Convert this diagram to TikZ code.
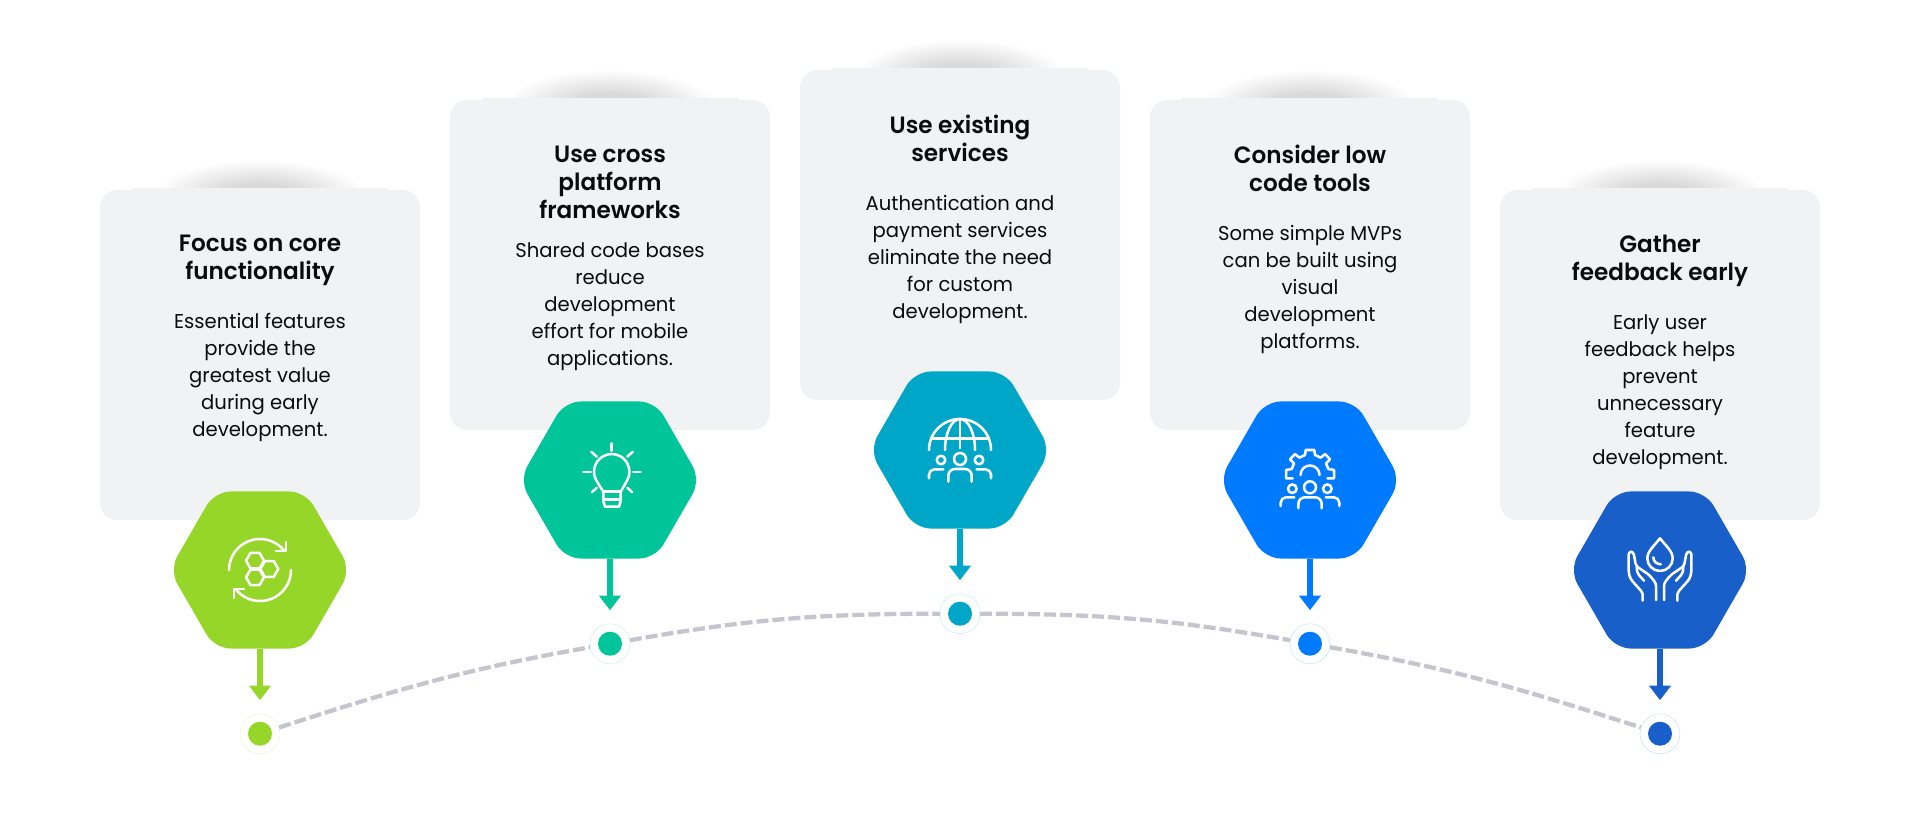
\documentclass[tikz,border=0pt]{standalone}
\usepackage{fontspec}
\setmainfont{Poppins}[FakeStretch=0.98, BoldFont={Poppins SemiBold}]
\usetikzlibrary{shapes.geometric, arrows.meta}
\definecolor{cardgray}{HTML}{F1F2F4}
\definecolor{curvegray}{HTML}{C4C5CF}
\definecolor{inkblack}{HTML}{0B0B0B}
\definecolor{limegreen}{HTML}{95D629}
\definecolor{seagreen}{HTML}{00C49A}
\definecolor{oceanblue}{HTML}{00A6C8}
\definecolor{brightblue}{HTML}{007BFF}
\definecolor{deepblue}{HTML}{185FC9}
\definecolor{shadowgray}{HTML}{DADADA}
\pgfdeclareradialshading{softshadow}{\pgfpointorigin}{color(0bp)=(shadowgray); color(9bp)=(shadowgray); color(25bp)=(white); color(50bp)=(white)}
\tikzstyle{card} = [rectangle, rounded corners=13pt, fill=cardgray, minimum width=240pt, minimum height=247.5pt]
\tikzstyle{cardtext} = [anchor=north, yshift=-30.5pt, align=center, text=inkblack, font=\fontsize{15}{20.25}\selectfont]
\tikzstyle{hexagon} = [regular polygon, regular polygon sides=6, rounded corners=12pt, minimum size=136pt, inner sep=0pt, outer sep=0pt]
\tikzstyle{ring} = [circle, minimum size=30pt, inner sep=0pt, fill=white, line width=0.3pt]
\tikzstyle{dot} = [circle, minimum size=18pt, inner sep=0pt]
\tikzstyle{arrow} = [line width=4pt, -{Triangle[width=16pt,length=11pt]}, shorten >=10pt]
\tikzstyle{curve} = [curvegray, line width=3.2pt, dash pattern=on 9pt off 3pt]
\tikzstyle{icon} = [white, line width=1.9pt, line cap=round, line join=round]
\newcommand{\cardshadow}[1]{
  \begin{scope}
    \clip ([shift={(-160,2)}]#1.north) rectangle ([shift={(160,70)}]#1.north);
    \shade [shading=softshadow] ([shift={(0,-6)}]#1.north) ellipse [x radius=106, y radius=36];
  \end{scope}
  \fill [cardgray] ([shift={(-128,-1)}]#1.north) rectangle ([shift={(128,2)}]#1.north);
}
\newcommand{\cardhead}[1]{{\fontsize{17.7}{21}\bfseries\selectfont #1}}
\begin{document}
\begin{tikzpicture}[x=0.75pt, y=0.75pt, node distance=262.5pt]
\useasboundingbox (0,0) rectangle (1920,832);

% cards
\node (card1) [card] at (260,477) {};
\node (card2) [card, right of=card1, yshift=67.5pt] {};
\node (card3) [card, right of=card2, yshift=22.5pt] {};
\node (card4) [card, right of=card3, yshift=-22.5pt] {};
\node (card5) [card, right of=card4, yshift=-67.5pt] {};
\cardshadow{card1}
\cardshadow{card2}
\cardshadow{card3}
\cardshadow{card4}
\cardshadow{card5}

\node (text1) [cardtext] at (card1.north)
   {\cardhead{Focus on core}\\[0.75pt]\cardhead{functionality}\\[16.6pt]Essential features\\provide the\\greatest value\\during early\\development.};
\node (text2) [cardtext, yshift=-1pt] at (card2.north)
   {\cardhead{Use cross}\\[0.75pt]\cardhead{platform}\\[0.75pt]\cardhead{frameworks}\\[8.8pt]Shared code bases\\reduce\\development\\effort for mobile\\applications.};
\node (text3) [cardtext] at (card3.north)
   {\cardhead{Use existing}\\[0.75pt]\cardhead{services}\\[16.6pt]Authentication and\\payment services\\eliminate the need\\for custom\\development.};
\node (text4) [cardtext] at (card4.north)
   {\cardhead{Consider low}\\[0.75pt]\cardhead{code tools}\\[16.6pt]Some simple MVPs\\can be built using\\visual\\development\\platforms.};
\node (text5) [cardtext] at (card5.north)
   {\cardhead{Gather}\\[0.75pt]\cardhead{feedback early}\\[16.6pt]Early user\\feedback helps\\prevent\\unnecessary\\feature\\development.};

% hexagons
\node (hex1) [hexagon, fill=limegreen, below of=card1, node distance=161.25pt] {};
\node (hex2) [hexagon, fill=seagreen, below of=card2, node distance=161.25pt] {};
\node (hex3) [hexagon, fill=oceanblue, below of=card3, node distance=161.25pt] {};
\node (hex4) [hexagon, fill=brightblue, below of=card4, node distance=161.25pt] {};
\node (hex5) [hexagon, fill=deepblue, below of=card5, node distance=161.25pt] {};

% points on the curve
\node (ring1) [ring, draw=limegreen!25, below of=hex1, node distance=122.8pt] {};
\node (ring2) [ring, draw=seagreen!25, below of=hex2, node distance=122.8pt] {};
\node (ring3) [ring, draw=oceanblue!25, below of=hex3, node distance=122.8pt] {};
\node (ring4) [ring, draw=brightblue!25, below of=hex4, node distance=122.8pt] {};
\node (ring5) [ring, draw=deepblue!25, below of=hex5, node distance=122.8pt] {};
\node (dot1) [dot, fill=limegreen] at (ring1) {};
\node (dot2) [dot, fill=seagreen] at (ring2) {};
\node (dot3) [dot, fill=oceanblue] at (ring3) {};
\node (dot4) [dot, fill=brightblue] at (ring4) {};
\node (dot5) [dot, fill=deepblue] at (ring5) {};

\draw [curve] (ring1) to [out=18, in=190] (ring2);
\draw [curve] (ring2) to [out=10, in=180] (ring3);
\draw [curve] (ring3) to [out=0, in=170] (ring4);
\draw [curve] (ring4) to [out=-10, in=162] (ring5);

\draw [arrow, limegreen] (hex1) -- (ring1);
\draw [arrow, seagreen] (hex2) -- (ring2);
\draw [arrow, oceanblue] (hex3) -- (ring3);
\draw [arrow, brightblue] (hex4) -- (ring4);
\draw [arrow, deepblue] (hex5) -- (ring5);

% icon: arrows round cells
\begin{scope}[shift={(hex1)}, icon]
\draw (-31,0) arc [start angle=180, end angle=39, radius=31];
\draw (26,28) -- (26,19) -- (16,19);
\draw (31,0) arc [start angle=0, end angle=-141, radius=31];
\draw (-26,-28) -- (-26,-19) -- (-16,-19);
\draw (4,9.3) -- ++(120:9) -- ++(180:9) -- ++(240:9) -- ++(300:9) -- ++(0:9) -- cycle;
\draw (18.3,1) -- ++(120:9) -- ++(180:9) -- ++(240:9) -- ++(300:9) -- ++(0:9) -- cycle;
\draw (4,-7.3) -- ++(120:9) -- ++(180:9) -- ++(240:9) -- ++(300:9) -- ++(0:9) -- cycle;
\end{scope}

% icon: bulb
\begin{scope}[shift={(hex2)}, icon]
\draw (-13.6,-0.6) arc [start angle=210, end angle=-30, radius=17.7] -- (10.7,-11.7) -- (10.7,-21) -- (9,-26.7) -- (-5,-26.7) -- (-6.7,-21) -- (-6.7,-11.7) -- cycle;
\draw (-6.7,-11.7) -- (10.7,-11.7);
\draw (-6.7,-19.3) -- (10.7,-19.3);
\draw (1.7,36.7) -- (1.7,29.3);
\draw (-26.7,8) -- (-19.3,8);
\draw (23.3,8) -- (30.7,8);
\draw (-18.7,28.3) -- (-13.3,23.3);
\draw (22.7,28.3) -- (17.3,23.3);
\draw (-18.3,-12.3) -- (-13.3,-7.7);
\draw (22.3,-12.3) -- (17.3,-7.7);
\end{scope}

% icon: globe and people
\begin{scope}[shift={(hex3)}, icon]
\draw (-31,0) arc [start angle=180, end angle=0, radius=31];
\draw (-15,0) arc [start angle=180, end angle=0, x radius=15, y radius=31];
\draw (-28.6,11.7) -- (28.6,11.7);
\draw (0,31) -- (0,1.7);
\draw (0,-9) circle [radius=6];
\draw (-19,-10) circle [radius=4.3];
\draw (19,-10) circle [radius=4.3];
\draw [rounded corners=5pt] (-11.7,-31.7) -- (-11.7,-19) -- (11.7,-19) -- (11.7,-31.7);
\draw [rounded corners=4pt] (-31,-28.3) -- (-31,-19.3) -- (-16.7,-19.3);
\draw [rounded corners=4pt] (31,-28.3) -- (31,-19.3) -- (16.7,-19.3);
\end{scope}

% icon: gear and people
\begin{scope}[shift={(hex4)}, icon]
\draw (-17.3,1.7) -- (-24,1.7) -- (-24,10) -- (-18.3,11) -- (-16,16.5) -- (-20,20.7) -- (-15,26) -- (-10.7,22.3) -- (-5,25) -- (-4.3,30) -- (4.3,30) -- (5,25) -- (10.7,22.3) -- (15,26) -- (20,20.7) -- (16,16.5) -- (18.3,11) -- (24,10) -- (24,1.7) -- (17.3,1.7);
\draw (-9.5,5) arc [start angle=180, end angle=0, radius=9.5];
\draw (0,-7.3) circle [radius=6];
\draw (-17.7,-8.7) circle [radius=4.3];
\draw (17.3,-8.7) circle [radius=4.3];
\draw [rounded corners=5pt] (-11.7,-28.3) -- (-11.7,-17.3) -- (11.7,-17.3) -- (11.7,-28.3);
\draw [rounded corners=4pt] (-29.3,-26) -- (-29.3,-17.3) -- (-15.7,-17.3);
\draw [rounded corners=4pt] (29.3,-26) -- (29.3,-17.3) -- (15.7,-17.3);
\end{scope}

% icon: hands and drop
\begin{scope}[shift={(hex5)}, icon]
\draw (0,31.7) .. controls (-5,25) and (-12.7,19) .. (-12.7,11.7) arc [start angle=180, end angle=360, radius=12.7] .. controls (12.7,19) and (5,25) .. (0,31.7) -- cycle;
\draw (-6.7,12.7) .. controls (-6.5,8) and (-3,6) .. (0.7,5.7);
\draw [rounded corners=2pt] (-17.3,-30.7) -- (-17.3,-22.7) -- (-29.3,-9.3) -- (-31.3,-3.3) -- (-31.3,18.3) -- (-26.7,18.3) -- (-24,4) -- (-10.7,-5) -- (-4,-13.3) -- (-4,-30);
\draw [rounded corners=2pt] (-23.3,2.7) -- (-22.7,-3.3) -- (-16,-10.7);
\draw [rounded corners=2pt] (17.3,-30.7) -- (17.3,-22.7) -- (29.3,-9.3) -- (31.3,-3.3) -- (31.3,18.3) -- (26.7,18.3) -- (24,4) -- (10.7,-5) -- (4,-13.3) -- (4,-30);
\draw [rounded corners=2pt] (23.3,2.7) -- (22.7,-3.3) -- (16,-10.7);
\end{scope}

\end{tikzpicture}
\end{document}
